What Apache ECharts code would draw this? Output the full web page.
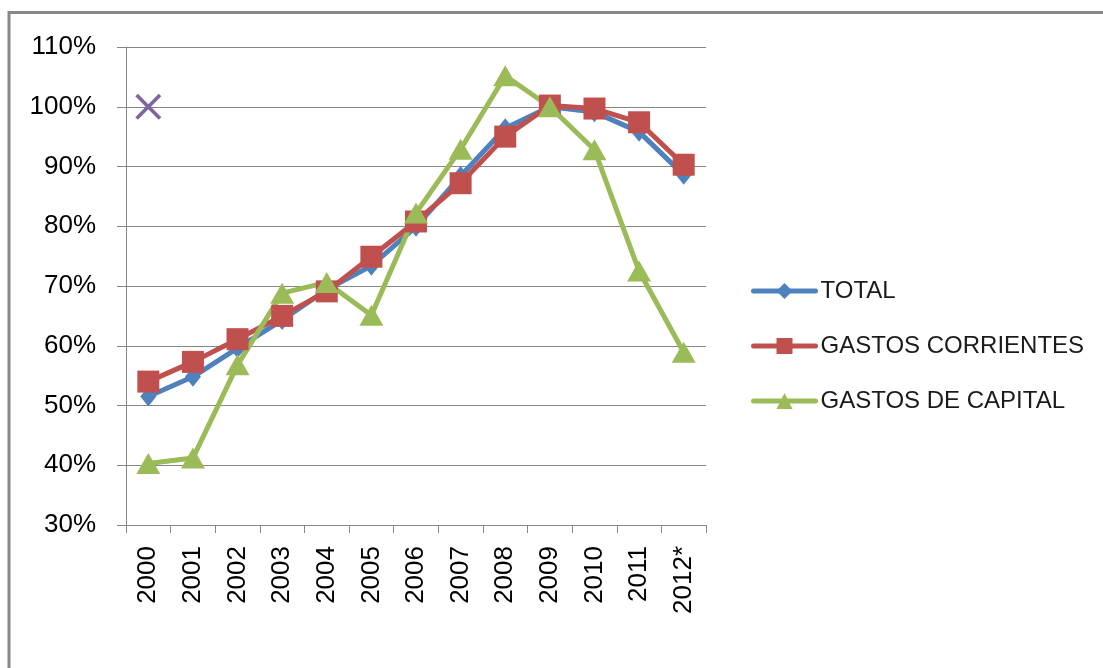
<!DOCTYPE html>
<html>
<head>
<meta charset="utf-8">
<script src="https://cdn.jsdelivr.net/npm/echarts@6/dist/echarts.min.js"></script>
<style>
  html, body { margin: 0; padding: 0; background: #fff; }
  #chart { width: 1103px; height: 668px; }
</style>
</head>
<body>
<div id="chart"></div>
<script>
// datos (% respecto a 2009)
var years = ["2000", "2001", "2002", "2003", "2004", "2005", "2006", "2007", "2008", "2009", "2010", "2011", "2012*"];
var total = [51.5, 54.8, 59.6, 64.3, 69.4, 73.4, 79.9, 88.4, 96.4, 100, 99.1, 95.8, 88.6];
var corrientes = [54, 57.3, 61.1, 65, 69.1, 74.9, 80.8, 87.2, 95, 100.2, 99.7, 97.4, 90.3];
var capital = [40.3, 41.2, 56.8, 68.8, 70.6, 65.1, 82.2, 92.9, 105.2, 100, 92.8, 72.5, 58.9];
var marca = [100, null, null, null, null, null, null, null, null, null, null, null, null];
var yTicks = [30, 40, 50, 60, 70, 80, 90, 100, 110];

var myChart = echarts.init(document.getElementById("chart"));
var font = "Liberation Sans, Arial, sans-serif";

myChart.setOption({
  animation: false,
  backgroundColor: "#ffffff",
  textStyle: { fontFamily: font },
  graphic: [
    {
      type: "polyline",
      shape: { points: [[9, 668], [9, 12.5], [1103, 12.5]] },
      style: { stroke: "#888888", lineWidth: 3, fill: null },
      silent: true
    }
  ],
  grid: {
    left: 126,
    top: 47,
    right: 397,
    bottom: 143,
    containLabel: false
  },
  legend: {
    data: ["TOTAL", "GASTOS CORRIENTES", "GASTOS DE CAPITAL"],
    orient: "vertical",
    left: 746,
    top: 274,
    itemWidth: 62,
    itemHeight: 20,
    itemGap: 31,
    lineStyle: { width: 5, cap: "round" },
    textStyle: {
      fontSize: 24,
      color: "#1a1a1a", // texto de la leyenda
      fontFamily: font,
      padding: [0, 0, 0, 0]
    }
  },
  xAxis: {
    type: "category",
    data: years,
    boundaryGap: true,
    axisLine: { lineStyle: { color: "#868686", width: 1 } },
    axisTick: { show: true, alignWithLabel: false, length: 8, lineStyle: { color: "#868686" } },
    axisLabel: {
      rotate: 90,
      margin: 21,
      fontSize: 26,
      color: "#000000",
      fontFamily: font,
      interval: 0
    },
    splitLine: { show: false }
  },
  yAxis: {
    type: "value",
    min: yTicks[0],
    max: yTicks[yTicks.length - 1],
    interval: 10,
    axisLine: { show: true, lineStyle: { color: "#868686", width: 1 } },
    axisTick: { show: true, length: 9, lineStyle: { color: "#868686" } },
    axisLabel: {
      formatter: "{value}%",
      margin: 30,
      fontSize: 26,
      color: "#000000",
      fontFamily: font
    },
    splitLine: { show: true, lineStyle: { color: "#868686", width: 1 } }
  },
  series: [
    {
      name: "TOTAL",
      type: "line",
      data: total,
      symbol: "diamond",
      symbolSize: [16, 20],
      lineStyle: { color: "#4F81BD", width: 5 },
      itemStyle: { color: "#4F81BD" }
    },
    {
      name: "GASTOS CORRIENTES",
      type: "line",
      data: corrientes,
      symbol: "rect",
      symbolSize: 22,
      lineStyle: { color: "#C0504D", width: 5 },
      itemStyle: { color: "#C0504D" }
    },
    {
      name: "GASTOS DE CAPITAL",
      type: "line",
      data: capital,
      symbol: "triangle",
      symbolSize: [24, 21],
      lineStyle: { color: "#9BBB59", width: 5 },
      itemStyle: { color: "#9BBB59" }
    },
    {
      name: "marca",
      type: "line",
      data: marca,
      symbol: "path://M0,2L2,0L10,8L18,0L20,2L12,10L20,18L18,20L10,12L2,20L0,18L8,10Z",
      symbolSize: 26,
      showAllSymbol: true,
      lineStyle: { width: 0 },
      itemStyle: { color: "#8064A2" }
    }
  ]
});
</script>
</body>
</html>
